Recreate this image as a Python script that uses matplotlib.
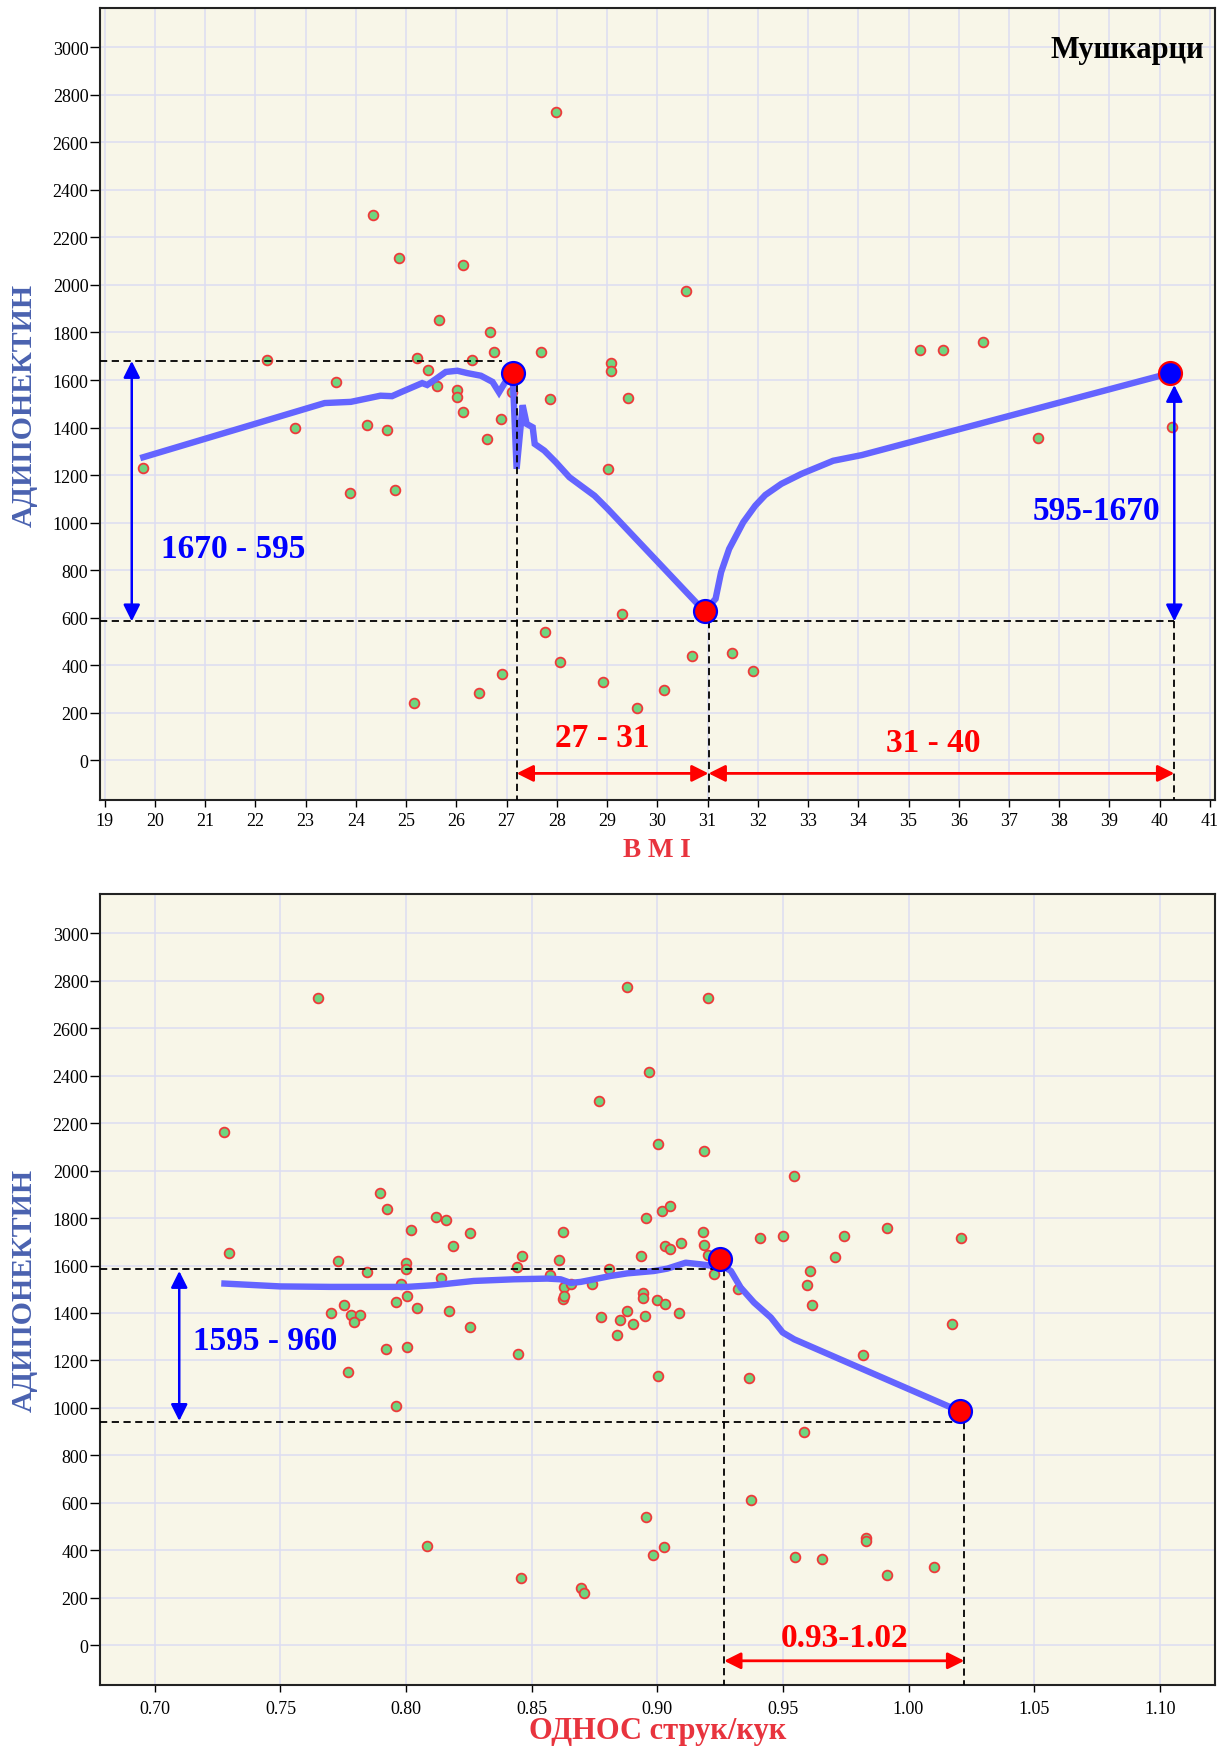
import matplotlib
matplotlib.use("Agg")
import matplotlib.pyplot as plt
from matplotlib.patches import FancyArrowPatch, ArrowStyle

plt.rcParams['font.family'] = ['Liberation Serif', 'DejaVu Serif']

# ---- BMI panel (Мушкарци) ----
bmi_x = [24.35, 24.86, 26.13, 27.99, 25.65, 26.68, 26.74, 27.69, 22.24, 25.22,
         26.31, 25.43, 23.60, 25.62, 26.02, 26.01, 27.10, 27.86, 26.13, 26.88,
         22.79, 24.23, 24.63, 26.61, 30.57, 29.08, 29.08, 29.42, 35.22, 35.69,
         36.48, 37.58, 40.25, 19.76, 23.88, 24.77, 29.01, 27.76, 28.06, 26.90,
         26.46, 25.15, 28.92, 29.29, 30.69, 31.48, 31.90, 30.13, 29.59]
bmi_y = [2294, 2115, 2084, 2730, 1852, 1801, 1716, 1716, 1685, 1692,
         1685, 1642, 1592, 1573, 1560, 1527, 1550, 1521, 1464, 1434,
         1398, 1410, 1388, 1353, 1976, 1670, 1639, 1524, 1728, 1726,
         1758, 1355, 1401, 1229, 1124, 1135, 1226, 539, 412, 361,
         282, 241, 329, 613, 440, 452, 373, 296, 221]

bmi_fit_x = [19.77, 23.38, 23.9, 24.49, 24.72, 24.89, 25.32, 25.42, 25.59, 25.79,
             26.02, 26.22, 26.49, 26.72, 26.85, 26.97, 27.12, 27.20, 27.32, 27.40,
             27.52, 27.56, 27.75, 27.98, 28.25, 28.48, 28.75, 29.01, 30.94, 31.16,
             31.27, 31.43, 31.71, 31.95, 32.15, 32.47, 32.87, 33.50, 34.07, 40.21]
bmi_fit_y = [1275, 1503, 1508, 1534, 1532, 1548, 1587, 1579, 1604, 1634,
             1639, 1629, 1618, 1592, 1548, 1590, 1632, 1226, 1494, 1415,
             1401, 1331, 1303, 1254, 1191, 1155, 1113, 1058, 626, 679,
             791, 889, 1001, 1071, 1116, 1163, 1205, 1260, 1284, 1629]

bmi_key_x = [27.12, 30.94, 40.21]
bmi_key_y = [1630, 626, 1629]
bmi_levels = [1680, 584]
bmi_cuts = [27.20, 31.02, 40.29]

# ---- waist/hip ratio panel ----
whr_x = [0.7295, 0.7896, 0.7923, 0.8021, 0.8120, 0.8159, 0.8253, 0.8185, 0.8623, 0.8463,
         0.8608, 0.8440, 0.8574, 0.7730, 0.7846, 0.8001, 0.8001, 0.8140, 0.7981, 0.8002,
         0.7961, 0.8042, 0.8170, 0.7754, 0.7702, 0.7781, 0.7815, 0.7791, 0.8253, 0.7919,
         0.8002, 0.8446, 0.7769, 0.8630, 0.8623, 0.8630, 0.8655, 0.8740, 0.8775,
         0.9002, 0.9186, 0.9544, 0.8955, 0.9019, 0.9051, 0.9182, 0.9031, 0.9051, 0.9093,
         0.9184, 0.9201, 0.8934, 0.9408, 0.9499, 0.9744, 0.9914, 1.0209, 0.9708, 0.9606,
         0.9594, 0.9614, 0.8809, 0.9226, 0.9323, 0.8944, 0.8942, 0.9000, 0.9031, 0.9087,
         0.8881, 0.8950, 0.8851, 0.8902, 0.8841, 1.0172, 0.9819, 0.9002, 0.9364,
         0.8879, 0.9202, 0.8967, 0.8767, 0.7275, 0.7648, 0.7960, 0.8082, 0.8457, 0.8696,
         0.8709, 0.9585, 0.9371, 0.8955, 0.9028, 0.8982, 0.9547, 0.9657, 0.9829, 0.9829,
         0.9913, 1.0101]
whr_y = [1653, 1907, 1838, 1751, 1806, 1792, 1739, 1684, 1742, 1642,
         1622, 1593, 1562, 1619, 1572, 1611, 1587, 1549, 1522, 1473,
         1448, 1419, 1410, 1435, 1398, 1392, 1392, 1360, 1339, 1247,
         1256, 1228, 1150, 1510, 1459, 1472, 1524, 1524, 1381,
         2114, 2083, 1976, 1801, 1830, 1851, 1740, 1684, 1669, 1693,
         1685, 1646, 1640, 1715, 1725, 1726, 1757, 1715, 1636, 1575,
         1520, 1433, 1584, 1566, 1501, 1486, 1462, 1455, 1437, 1400,
         1409, 1386, 1372, 1353, 1308, 1354, 1225, 1135, 1124,
         2775, 2729, 2416, 2294, 2162, 2728, 1006, 417, 282, 242,
         220, 900, 612, 539, 413, 381, 372, 362, 452, 439,
         295, 329]

whr_fit_x = [0.7277, 0.7499, 0.7698, 0.8004, 0.8110, 0.8269, 0.8429, 0.8562, 0.8615, 0.8655,
             0.8695, 0.8748, 0.8814, 0.8881, 0.8987, 0.9040, 0.9113, 0.9173, 0.9226, 0.9250,
             0.9293, 0.9332, 0.9385, 0.9452, 0.9499, 0.9545, 1.0206]
whr_fit_y = [1524, 1512, 1510, 1510, 1517, 1535, 1542, 1545, 1542, 1527,
             1531, 1542, 1556, 1567, 1577, 1587, 1612, 1605, 1598, 1605,
             1577, 1507, 1444, 1381, 1318, 1289, 985]

whr_key_x = [0.925, 1.0206]
whr_key_y = [1626, 985]
whr_levels = [1584, 942]
whr_cuts = [0.9266, 1.0222]

yticks = list(range(0, 3001, 200))
bg = '#F8F6E8'
grid_c = '#DCDCF2'
fit_c = '#6464FF'
pt_face = '#6FD57F'
pt_edge = '#EE3A3A'


def arrow(ax, p0, p1, color, lw):
    st = ArrowStyle('<|-|>', head_length=1.0, head_width=0.5)
    ax.add_patch(FancyArrowPatch(p0, p1, arrowstyle=st, mutation_scale=10,
                                 color=color, lw=lw, shrinkA=0, shrinkB=0, zorder=7))


def dashed(ax, xs, ys):
    ax.plot(xs, ys, color='black', lw=1.3, ls=(0, (4, 2.5)), zorder=5)


def style(ax, xlim, xticks, xfmt):
    ax.set_facecolor(bg)
    ax.set_xlim(*xlim)
    ax.set_ylim(-168, 3166)
    ax.set_yticks(yticks)
    ax.set_xticks(xticks)
    ax.set_xticklabels([xfmt % v for v in xticks])
    ax.grid(True, color=grid_c, lw=1.1)
    ax.set_axisbelow(True)
    ax.tick_params(axis='y', direction='out', length=7, width=1, pad=1, labelsize=13)
    ax.tick_params(axis='x', direction='out', length=5, width=1, pad=4, labelsize=13)
    for s in ax.spines.values():
        s.set_linewidth(1.5)
        s.set_color('#222222')
    ax.text(-0.0678, 0.5, 'АДИПОНЕКТИН', transform=ax.transAxes, rotation=90,
            ha='center', va='center', fontsize=21.5, fontweight='bold', color='#4A62B0')


fig = plt.figure(figsize=(12.28, 17.49), dpi=100)
ax1 = fig.add_axes([99.6 / 1228, 1 - 801 / 1749, 1115.4 / 1228, 792 / 1749])
ax2 = fig.add_axes([99.6 / 1228, 1 - 1686 / 1749, 1115.4 / 1228, 791 / 1749])

# top panel
style(ax1, (18.9, 41.1), list(range(19, 42)), '%d')
ax1.plot(bmi_x, bmi_y, 'o', ms=7, mfc=pt_face, mec=pt_edge, mew=1.3, zorder=3)
ax1.plot(bmi_fit_x, bmi_fit_y, color=fit_c, lw=4.6, solid_joinstyle='miter', zorder=4)
x0 = ax1.get_xlim()[0]
yb = ax1.get_ylim()[0]
dashed(ax1, [x0, 26.9], [bmi_levels[0]] * 2)
dashed(ax1, [x0, bmi_cuts[2]], [bmi_levels[1]] * 2)
dashed(ax1, [bmi_cuts[0]] * 2, [bmi_key_y[0], yb])
dashed(ax1, [bmi_cuts[1]] * 2, [bmi_levels[1], yb])
dashed(ax1, [bmi_cuts[2]] * 2, [bmi_levels[1], yb])
ax1.plot(bmi_key_x[:2], bmi_key_y[:2], 'o', ms=16.5, mfc='#FF0000', mec='#0000FF', mew=1.6, ls='none', zorder=6)
ax1.plot(bmi_key_x[2:], bmi_key_y[2:], 'o', ms=16.5, mfc='#0000FF', mec='#FF0000', mew=1.6, ls='none', zorder=6)
arrow(ax1, (19.54, bmi_levels[0]), (19.54, bmi_levels[1]), '#0000FF', 1.8)
arrow(ax1, (bmi_cuts[2], 1579), (bmi_cuts[2], bmi_levels[1]), '#0000FF', 1.8)
arrow(ax1, (bmi_cuts[0], -56), (bmi_cuts[1], -56), '#FF0000', 2.0)
arrow(ax1, (bmi_cuts[1], -56), (bmi_cuts[2], -56), '#FF0000', 2.0)
bold = dict(fontsize=24, fontweight='bold', ha='center', va='center', zorder=8)
ax1.text(21.55, 889, '1670 - 595', color='#0000FF', **bold)
ax1.text(38.74, 1049, '595-1670', color='#0000FF', **bold)
ax1.text(28.91, 95, '27 - 31', color='#FF0000', **bold)
ax1.text(35.50, 74, '31 - 40', color='#FF0000', **bold)
ax1.text(0.990, 0.948, 'Мушкарци', transform=ax1.transAxes, ha='right', va='center',
         fontsize=22, fontweight='bold', color='black')
ax1.text(0.5, -0.0619, 'B M I', transform=ax1.transAxes, ha='center', va='center',
         fontsize=19.5, fontweight='bold', color='#E8343E')

# bottom panel
whr_ticks = [0.70, 0.75, 0.80, 0.85, 0.90, 0.95, 1.00, 1.05, 1.10]
style(ax2, (0.678, 1.122), whr_ticks, '%.2f')
ax2.tick_params(axis='x', pad=6)
ax2.plot(whr_x, whr_y, 'o', ms=7, mfc=pt_face, mec=pt_edge, mew=1.3, zorder=3)
ax2.plot(whr_fit_x, whr_fit_y, color=fit_c, lw=4.6, zorder=4)
x0 = ax2.get_xlim()[0]
yb = ax2.get_ylim()[0]
dashed(ax2, [x0, whr_cuts[0]], [whr_levels[0]] * 2)
dashed(ax2, [x0, whr_cuts[1]], [whr_levels[1]] * 2)
dashed(ax2, [whr_cuts[0]] * 2, [whr_levels[0], yb])
dashed(ax2, [whr_cuts[1]] * 2, [whr_levels[1], yb])
ax2.plot(whr_key_x, whr_key_y, 'o', ms=16.5, mfc='#FF0000', mec='#0000FF', mew=1.6, ls='none', zorder=6)
arrow(ax2, (0.7097, 1577), (0.7097, 945), '#0000FF', 1.8)
arrow(ax2, (whr_cuts[0], -66), (whr_cuts[1], -66), '#FF0000', 2.0)
ax2.text(0.7438, 1282, '1595 - 960', color='#0000FF', **bold)
ax2.text(0.9744, 32, '0.93-1.02', color='#FF0000', **bold)
ax2.text(0.5, -0.0569, 'ОДНОС струк/кук', transform=ax2.transAxes, ha='center', va='center',
         fontsize=22, fontweight='bold', color='#E8343E')

fig.savefig('out.png', dpi=100, facecolor='white')
